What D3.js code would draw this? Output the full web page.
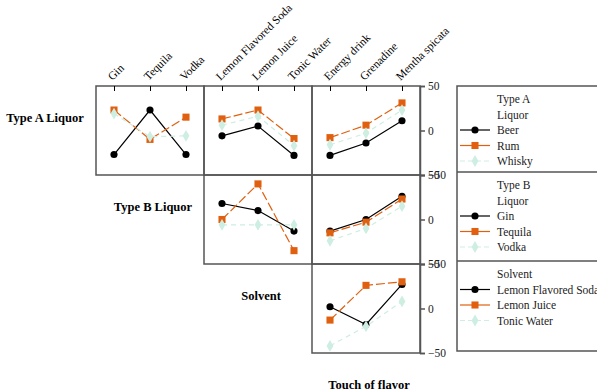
<!DOCTYPE html>
<html>
<head>
<meta charset="utf-8">
<script src="https://cdn.jsdelivr.net/npm/d3@7"></script>
<style>
  body { margin: 0; background: #fff; }
  text { font-family: "Liberation Serif", "DejaVu Serif", serif; }
</style>
</head>
<body>
<div id="main"></div>
<script>
// categories
const typeALiquor = ["Beer", "Rum", "Whisky"];
const typeBLiquor = ["Gin", "Tequila", "Vodka"];
const solvent = ["Lemon Flavored Soda", "Lemon Juice", "Tonic Water"];
const touchOfFlavor = ["Energy drink", "Grenadine", "Mentha spicata"];

// values: one row per series, one value per column category
const typeAByTypeB = [[-27, 23, -27], [23, -10, 15], [19, -7, -6]];
const typeABySolvent = [[-6, 5, -28], [13, 23, -9], [6, 16, -17]];
const typeAByFlavor = [[-28, -14, 11], [-8, 6, 31], [-16, -3, 23]];
const typeBBySolvent = [[18, 10, -13], [0, 40, -35], [-6, -6, -6]];
const typeBByFlavor = [[-13, 0, 26], [-15, -3, 23], [-24, -10, 15]];
const solventByFlavor = [[2, -18, 27], [-13, 26, 30], [-42, -20, 8]];

const yTicks = [-50, 0, 50];

const rowFactors = [
  { name: "Type A Liquor", title: ["Type A", "Liquor"], levels: typeALiquor },
  { name: "Type B Liquor", title: ["Type B", "Liquor"], levels: typeBLiquor },
  { name: "Solvent", title: ["Solvent"], levels: solvent }
];
const colFactors = [
  { name: "Type B Liquor", levels: typeBLiquor },
  { name: "Solvent", levels: solvent },
  { name: "Touch of flavor", levels: touchOfFlavor }
];
const panels = [
  { row: 0, col: 0, values: typeAByTypeB },
  { row: 0, col: 1, values: typeABySolvent },
  { row: 0, col: 2, values: typeAByFlavor },
  { row: 1, col: 1, values: typeBBySolvent },
  { row: 1, col: 2, values: typeBByFlavor },
  { row: 2, col: 2, values: solventByFlavor }
];

const width = 597, height = 391;
const gridLeft = 96, gridTop = 86, colW = 108, rowH = 89;
const colors = ["#000000", "#e0600f", "#cdeee1"];
const dashes = [null, "9,3", "5,4"];
const symbols = [d3.symbolCircle, d3.symbolSquare, d3.symbolDiamond];
const symSizes = [40, 50, 40];
const frame = "#555";

const svg = d3.select("#main").append("svg")
  .attr("width", width)
  .attr("height", height);

const xScale = c => d3.scalePoint()
  .domain(colFactors[c].levels)
  .range([gridLeft + c * colW, gridLeft + (c + 1) * colW])
  .padding(0.5);
const yScale = r => d3.scaleLinear()
  .domain([-50, 50])
  .range([gridTop + (r + 1) * rowH, gridTop + r * rowH]);

// panel frames
panels.forEach(p => {
  svg.append("rect")
    .attr("x", gridLeft + p.col * colW)
    .attr("y", gridTop + p.row * rowH)
    .attr("width", colW)
    .attr("height", rowH)
    .attr("fill", "none")
    .attr("stroke", frame)
    .attr("stroke-width", 1.5);
});

// top axes with rotated labels
colFactors.forEach((f, c) => {
  const g = svg.append("g")
    .attr("transform", `translate(0,${gridTop})`)
    .call(d3.axisTop(xScale(c)).tickSizeInner(-5).tickSizeOuter(0));
  g.select(".domain").remove();
  g.selectAll(".tick line").attr("stroke", "#000");
  g.selectAll(".tick text")
    .attr("x", 0).attr("y", 0).attr("dy", 0)
    .attr("transform", "translate(-2,-5) rotate(-45)")
    .attr("text-anchor", "start")
    .attr("fill", "#000")
    .style("font-size", "11.5px")
    .style("font-family", "Liberation Serif, serif");
});

// right y axes
rowFactors.forEach((f, r) => {
  const g = svg.append("g")
    .attr("transform", `translate(${gridLeft + 3 * colW},0)`)
    .call(d3.axisRight(yScale(r)).tickValues(yTicks).tickSize(5).tickPadding(3));
  g.select(".domain").attr("stroke", frame).attr("stroke-width", 1.5);
  g.selectAll(".tick line").attr("stroke", frame).attr("stroke-width", 1.5);
  g.selectAll(".tick text")
    .attr("fill", "#222")
    .style("font-size", "11.5px")
    .style("font-family", "Liberation Serif, serif");
});

// lines and markers
panels.forEach(p => {
  const x = xScale(p.col), y = yScale(p.row);
  const levels = colFactors[p.col].levels;
  p.values.forEach((vals, s) => {
    const pts = vals.map((v, i) => [x(levels[i]), y(v)]);
    svg.append("path")
      .attr("d", d3.line()(pts))
      .attr("fill", "none")
      .attr("stroke", colors[s])
      .attr("stroke-width", 1.2)
      .attr("stroke-dasharray", dashes[s]);
    svg.selectAll(null)
      .data(pts)
      .enter()
      .append("path")
      .attr("transform", d => `translate(${d[0]},${d[1]})`)
      .attr("d", d3.symbol(symbols[s], symSizes[s]))
      .attr("fill", colors[s]);
  });
});

// row labels on the diagonal
rowFactors.concat([{ name: "Touch of flavor" }]).forEach((f, r) => {
  svg.append("text")
    .attr("x", gridLeft + (r - 0.5) * colW + 3)
    .attr("y", gridTop + (r + 0.5) * rowH - 9)
    .attr("text-anchor", "middle")
    .attr("font-weight", "bold")
    .style("font-size", "12.5px")
    .text(f.name);
});

// legend
const legX = 457;
const legBottom = gridTop + 3 * rowH - 2;
svg.append("rect")
  .attr("x", legX).attr("y", gridTop)
  .attr("width", 200).attr("height", legBottom - gridTop)
  .attr("fill", "none").attr("stroke", frame).attr("stroke-width", 1.5);

rowFactors.forEach((f, r) => {
  const y0 = r === 0 ? gridTop : gridTop + r * rowH - 3;
  if (r > 0) {
    svg.append("line")
      .attr("x1", legX).attr("x2", width)
      .attr("y1", y0).attr("y2", y0)
      .attr("stroke", frame).attr("stroke-width", 1.5);
  }
  const lines = f.title.concat(f.levels);
  lines.forEach((t, i) => {
    const by = y0 + 17 + i * 15.5;
    svg.append("text")
      .attr("x", 497).attr("y", by)
      .attr("fill", "#222")
      .style("font-size", "11.5px")
      .text(t);
    const s = i - f.title.length;
    if (s >= 0) {
      svg.append("line")
        .attr("x1", 460).attr("x2", 490)
        .attr("y1", by - 4).attr("y2", by - 4)
        .attr("stroke", colors[s])
        .attr("stroke-width", 1.2)
        .attr("stroke-dasharray", s === 2 ? "5,3" : null);
      svg.append("path")
        .attr("transform", `translate(475,${by - 4})`)
        .attr("d", d3.symbol(symbols[s], symSizes[s]))
        .attr("fill", colors[s]);
    }
  });
});
</script>
</body>
</html>
